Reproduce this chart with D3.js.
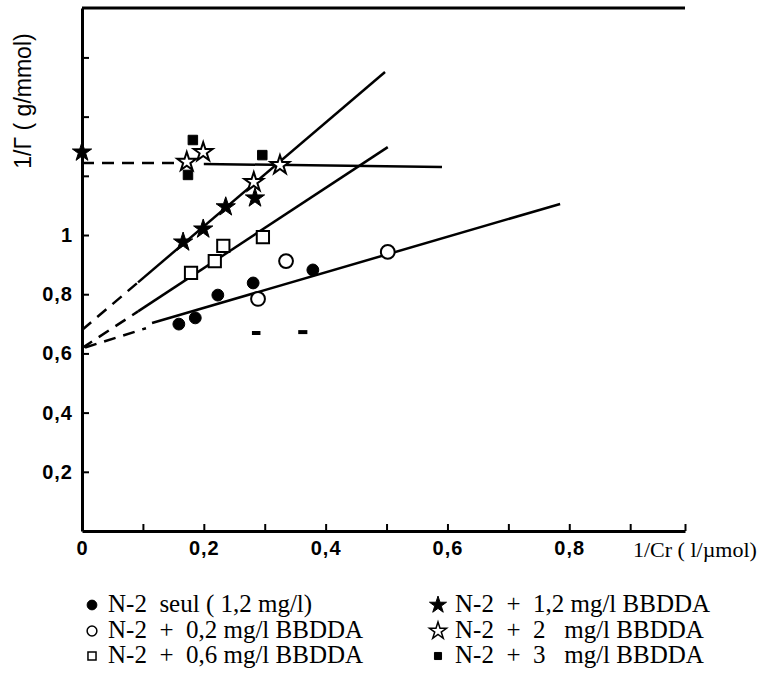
<!DOCTYPE html>
<html><head><meta charset="utf-8">
<script src="https://cdn.jsdelivr.net/npm/d3@7"></script>
<style>body{margin:0;background:#fff}text{white-space:pre}</style>
</head><body><svg id="c" width="765" height="685"></svg>
<script>
// ---- data ----
const xTicks=[0,0.2,0.4,0.6,0.8];
const xTickLabels=["0","0,2","0,4","0,6","0,8"];
const xMinorTicks=[0.1,0.3,0.5,0.7,0.9];
const yTicks=[0.2,0.4,0.6,0.8,1];
const yTickLabels=["0,2","0,4","0,6","0,8","1"];
const yMinorTicks=[1.2,1.4,1.6];
const seul=[[0.159,0.699],[0.186,0.72],[0.223,0.797],[0.281,0.838],[0.379,0.882]];
const bb02=[[0.289,0.784],[0.335,0.912],[0.502,0.943]];
const bb06=[[0.179,0.872],[0.218,0.912],[0.232,0.963],[0.297,0.993]];
const bb12=[[0,1.28],[0.166,0.976],[0.199,1.02],[0.236,1.095],[0.284,1.125]];
const bb2=[[0.199,1.28],[0.172,1.247],[0.325,1.236],[0.282,1.179]];
const bb3=[[0.182,1.321],[0.174,1.203],[0.296,1.27]];
const solidLines=[
  [[0.092,0.84],[0.4975,1.551]],
  [[0.092,0.742],[0.502,1.297]],
  [[0.115,0.703],[0.785,1.105]],
  [[0.2,1.24],[0.591,1.23]]
];
const dashedLines=[
  [[0,0.679],[0.092,0.84]],
  [[0,0.618],[0.092,0.742]],
  [[0.005,0.62],[0.105,0.685]],
  [[0,1.243],[0.175,1.243]]
];
const strayMarks=[[[0.279,0.669],[0.293,0.669]],[[0.355,0.672],[0.37,0.672]]];
const legendLeft=["N-2  seul ( 1,2 mg/l)","N-2  +  0,2 mg/l BBDDA","N-2  +  0,6 mg/l BBDDA"];
const legendRight=["N-2  +  1,2 mg/l BBDDA","N-2  +  2   mg/l BBDDA","N-2  +  3   mg/l BBDDA"];

// ---- drawing ----
const svg=d3.select("#c");
const x=d3.scaleLinear().domain([0,0.99]).range([82,685]);
const y=d3.scaleLinear().domain([0,1.767]).range([531,8]);
const line=d3.line().x(d=>x(d[0])).y(d=>y(d[1]));

// axes
const gx=svg.append("g").attr("transform",`translate(0,${y(0)})`)
  .call(d3.axisBottom(x).tickValues(xTicks.concat(xMinorTicks,[0.99])).tickSizeInner(-7).tickSizeOuter(0).tickPadding(10)
    .tickFormat(d=>{const i=xTicks.indexOf(d);return i>=0?xTickLabels[i]:"";}));
gx.select(".domain").attr("stroke-width",3);
gx.selectAll(".tick line").attr("stroke-width",2);
gx.selectAll("text").attr("font-family","Liberation Sans").attr("font-weight","bold").attr("font-size",20).attr("letter-spacing",1).attr("fill","#000");

const gy=svg.append("g").attr("transform",`translate(${x(0)},0)`)
  .call(d3.axisLeft(y).tickValues(yTicks.concat(yMinorTicks)).tickSizeInner(-7).tickSizeOuter(0).tickPadding(9)
    .tickFormat(d=>{const i=yTicks.indexOf(d);return i>=0?yTickLabels[i]:"";}));
gy.select(".domain").attr("stroke-width",3);
gy.selectAll(".tick line").attr("stroke-width",2);
gy.selectAll("text").attr("font-family","Liberation Sans").attr("font-weight","bold").attr("font-size",20).attr("letter-spacing",1).attr("fill","#000");

// top border
svg.append("line").attr("x1",x(0)).attr("x2",x(0.99)).attr("y1",y(1.767)).attr("y2",y(1.767)).attr("stroke","#000").attr("stroke-width",3);

// axis titles
svg.append("text").attr("transform","translate(31,101) rotate(-90)").attr("text-anchor","middle")
  .attr("font-family","Liberation Sans").attr("font-size",23).text("1/Γ ( g/mmol)");
svg.append("text").attr("x",633).attr("y",557).attr("font-family","Liberation Serif").attr("font-size",22).text("1/Cr ( l/µmol)");

// lines
svg.selectAll(".sl").data(solidLines).join("path").attr("d",line).attr("fill","none").attr("stroke","#000").attr("stroke-width",2.5);
svg.selectAll(".dl").data(dashedLines).join("path").attr("d",line).attr("fill","none").attr("stroke","#000").attr("stroke-width",2.5).attr("stroke-dasharray","12,8");
svg.selectAll(".st").data(strayMarks).join("path").attr("d",line).attr("fill","none").attr("stroke","#000").attr("stroke-width",4);

// markers
const sym=(type,size)=>d3.symbol().type(type).size(size)();
function markers(data,type,size,filled){
  svg.append("g").selectAll("path").data(data).join("path")
    .attr("transform",d=>`translate(${x(d[0])},${y(d[1])})`)
    .attr("d",sym(type,size))
    .attr("fill",filled?"#000":"#fff").attr("stroke","#000").attr("stroke-width",filled?1:2);
}
markers(seul,d3.symbolCircle,110,true);
markers(bb02,d3.symbolCircle,150,false);
markers(bb06,d3.symbolSquare,150,false);
markers(bb12,d3.symbolStar,115,true);
markers(bb2,d3.symbolStar,110,false);
markers(bb3,d3.symbolSquare,90,true);

// legend
const legY=[605,631,656];
const legTypes=[[d3.symbolCircle,75,true],[d3.symbolCircle,75,false],[d3.symbolSquare,65,false]];
const legTypesR=[[d3.symbolStar,90,true],[d3.symbolStar,90,false],[d3.symbolSquare,50,true]];
function legend(items,types,mx,tx){
  items.forEach((t,i)=>{
    svg.append("path").attr("transform",`translate(${mx},${legY[i]})`).attr("d",sym(types[i][0],types[i][1]))
      .attr("fill",types[i][2]?"#000":"#fff").attr("stroke","#000").attr("stroke-width",types[i][2]?1:1.5);
    svg.append("text").attr("x",tx).attr("y",legY[i]+7).attr("font-family","Liberation Serif").attr("font-size",25).text(t);
  });
}
legend(legendLeft,legTypes,92,108);
legend(legendRight,legTypesR,438,455);
</script></body></html>
